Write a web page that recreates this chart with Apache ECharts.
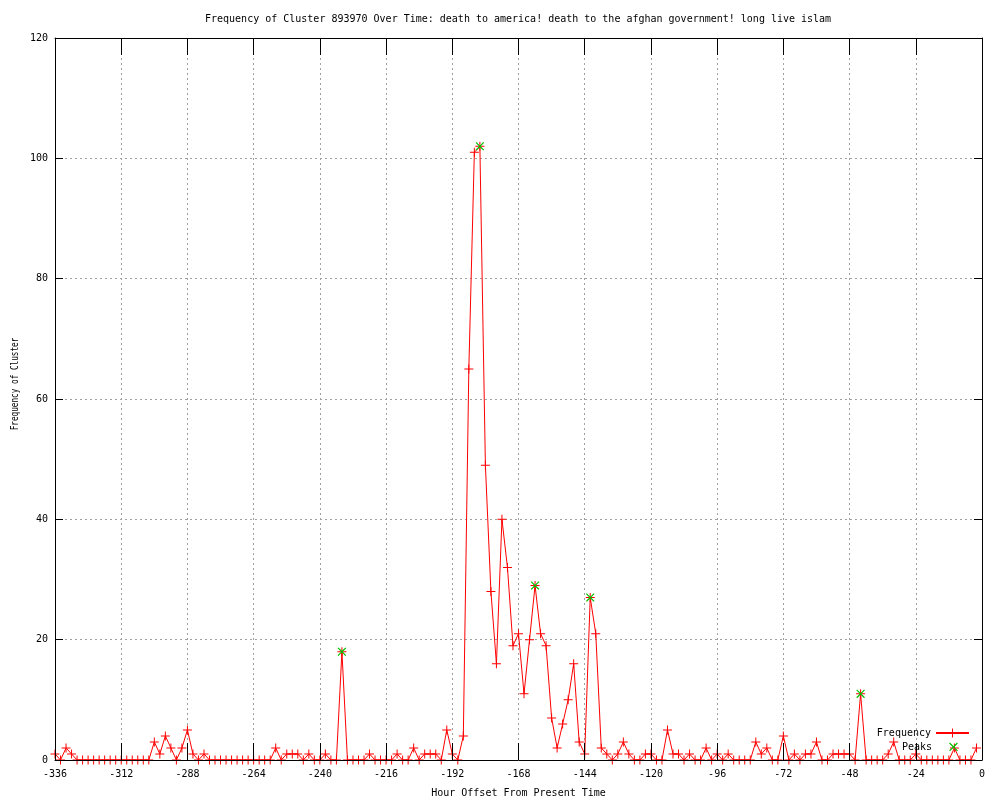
<!DOCTYPE html>
<html><head><meta charset="utf-8">
<script src="https://cdn.jsdelivr.net/npm/echarts@6/dist/echarts.min.js"></script>
<style>html,body{margin:0;padding:0;background:#fff}#c{width:1000px;height:800px}</style>
</head><body><div id="c"></div>
<script>
// Sample grid: one value every 2 hours, starting at -336
const startHour = -336;
const stepHours = 2;
// Frequency values, 12 per 24-hour block, from -336 to -2
const frequency = [
  1,0,2,1,0,0,0,0,0,0,0,0,        // -336 .. -314
  0,0,0,0,0,0,3,1,4,2,0,2,        // -312 .. -290
  5,1,0,1,0,0,0,0,0,0,0,0,        // -288 .. -266
  0,0,0,0,2,0,1,1,1,0,1,0,        // -264 .. -242
  0,1,0,0,18,0,0,0,0,1,0,0,       // -240 .. -218
  0,0,1,0,0,2,0,1,1,1,0,5,        // -216 .. -194
  1,0,4,65,101,102,49,28,16,40,32,19, // -192 .. -170
  21,11,20,29,21,19,7,2,6,10,16,3,    // -168 .. -146
  1,27,21,2,1,0,1,3,1,0,0,1,      // -144 .. -122
  1,0,0,5,1,1,0,1,0,0,2,0,        // -120 .. -98
  1,0,1,0,0,0,0,3,1,2,0,0,        // -96 .. -74
  4,0,1,0,1,1,3,0,0,1,1,1,        // -72 .. -50
  1,0,11,0,0,0,0,1,3,0,0,0,       // -48 .. -26
  1,0,0,0,0,0,0,2,0,0,0,2         // -24 .. -2
];
const peakHours = [-232, -182, -162, -142, -44];
const peakValues = [18, 102, 29, 27, 11];

const xMin = -336, xMax = 0, xStep = 24;
const yMin = 0, yMax = 120, yStep = 20;

const titleText = 'Frequency of Cluster 893970 Over Time: death to america! death to the afghan government! long live islam';
const xName = 'Hour Offset From Present Time';
const yName = 'Frequency of Cluster';

const freqData = frequency.map((v, i) => [startHour + i * stepHours, v]);
const peakData = peakHours.map((h, i) => [h, peakValues[i]]);

const FONT = 'DejaVu Sans Mono';
const PLUS = 'path://M4,0H5V4H9V5H5V9H4V5H0V4H4Z';

const grid = {left: 55, right: 18, top: 38, bottom: 40, containLabel: false, outerBoundsMode: 'none'};
const gridLine = {show: true, lineStyle: {color: '#a0a0a0', type: [2, 3], width: 1}};
const legendText = {fontFamily: FONT, fontSize: 10, color: '#000'};

const chart = echarts.init(document.getElementById('c'), null, {renderer: 'canvas'});
chart.setOption({
  animation: false,
  backgroundColor: '#fff',
  title: {
    text: titleText, left: 205, top: 14, padding: 0,
    textStyle: {fontFamily: FONT, fontSize: 10, fontWeight: 'normal', color: '#000'}
  },
  grid: grid,
  legend: [
    {data: ['Frequency'], orient: 'vertical', right: 30, top: 728, padding: 0, align: 'right',
     itemWidth: 33, itemHeight: 11, textStyle: legendText},
    {data: ['Peaks'], orient: 'vertical', right: 30, top: 739, padding: 0, align: 'right',
     itemWidth: 33, itemHeight: 14, textStyle: legendText}
  ],
  xAxis: [
    {type: 'value', position: 'bottom', min: xMin, max: xMax, interval: xStep, z: 3,
     name: xName, nameLocation: 'middle', nameGap: 28,
     nameTextStyle: {fontFamily: FONT, fontSize: 10, color: '#000'},
     axisLine: {show: true, onZero: false, lineStyle: {color: '#000', width: 1}},
     axisTick: {show: true, inside: true, length: 17, lineStyle: {color: '#000'}},
     axisLabel: {show: true, margin: 9, fontFamily: FONT, fontSize: 10, color: '#000', showMinLabel: true, showMaxLabel: true},
     splitLine: {show: false}},
    {type: 'value', position: 'top', min: xMin, max: xMax, interval: xStep,
     axisLine: {show: true, onZero: false, lineStyle: {color: '#000', width: 1}},
     axisTick: {show: true, inside: true, length: 17, lineStyle: {color: '#000'}},
     axisLabel: {show: false},
     splitLine: gridLine}
  ],
  yAxis: [
    {type: 'value', position: 'left', min: yMin, max: yMax, interval: yStep, z: 3,
     axisLine: {show: true, onZero: false, lineStyle: {color: '#000', width: 1}},
     axisTick: {show: true, inside: true, length: 8, lineStyle: {color: '#000'}},
     axisLabel: {show: true, margin: 7, fontFamily: FONT, fontSize: 10, color: '#000'},
     splitLine: {show: false}},
    {type: 'value', position: 'right', min: yMin, max: yMax, interval: yStep,
     axisLine: {show: true, onZero: false, lineStyle: {color: '#000', width: 1}},
     axisTick: {show: true, inside: true, length: 8, lineStyle: {color: '#000'}},
     axisLabel: {show: false},
     splitLine: gridLine}
  ],
  graphic: [
    {type: 'text', x: 15, y: 384, rotation: Math.PI / 2, scaleX: 0.77,
     style: {text: yName, fontFamily: FONT, fontSize: 10, fill: '#000', align: 'center', verticalAlign: 'middle'}}
  ],
  series: [
    {name: 'Frequency', type: 'line', xAxisIndex: 0, yAxisIndex: 0, data: freqData,
     symbol: PLUS, symbolSize: 9, showSymbol: true, z: 2,
     lineStyle: {color: '#ff0000', width: 1},
     itemStyle: {color: '#ff0000'},
     emphasis: {disabled: true}},
    {name: 'Peaks', type: 'line', xAxisIndex: 0, yAxisIndex: 0, data: peakData,
     symbol: PLUS, symbolSize: 11, symbolRotate: 45, showSymbol: true, z: 2.5,
     lineStyle: {width: 0, opacity: 0, color: '#00c000'},
     itemStyle: {color: '#00c000'},
     emphasis: {disabled: true}}
  ]
});
</script>
</body></html>
